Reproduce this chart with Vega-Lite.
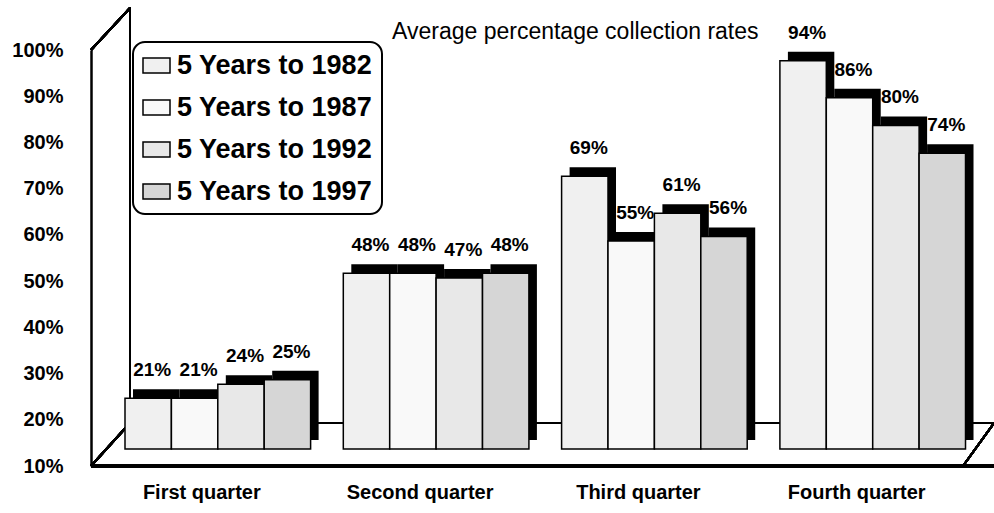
{
  "$schema": "https://vega.github.io/schema/vega-lite/v6.json",
  "width": 903,
  "height": 416,
  "autosize": {"type": "none"},
  "padding": {"left": 91, "top": 50, "right": 0, "bottom": 47},
  "background": "white",
  "title": {
    "text": "Average percentage collection rates",
    "anchor": "start",
    "frame": "group",
    "dx": 301,
    "dy": 69,
    "offset": 13,
    "baseline": "alphabetic",
    "font": "Liberation Sans",
    "fontSize": 23,
    "fontWeight": "normal",
    "color": "black"
  },
  "config": {"view": {"stroke": null}, "font": "Liberation Sans", "legend": {"strokeWidth": 2}},
  "resolve": {"scale": {"xOffset": "independent"}},
  "data": {
    "values": [
      {"quarter": "First quarter", "period": "5 Years to 1982", "value": 21},
      {"quarter": "First quarter", "period": "5 Years to 1987", "value": 21},
      {"quarter": "First quarter", "period": "5 Years to 1992", "value": 24},
      {"quarter": "First quarter", "period": "5 Years to 1997", "value": 25},
      {"quarter": "Second quarter", "period": "5 Years to 1982", "value": 48},
      {"quarter": "Second quarter", "period": "5 Years to 1987", "value": 48},
      {"quarter": "Second quarter", "period": "5 Years to 1992", "value": 47},
      {"quarter": "Second quarter", "period": "5 Years to 1997", "value": 48},
      {"quarter": "Third quarter", "period": "5 Years to 1982", "value": 69},
      {"quarter": "Third quarter", "period": "5 Years to 1987", "value": 55},
      {"quarter": "Third quarter", "period": "5 Years to 1992", "value": 61},
      {"quarter": "Third quarter", "period": "5 Years to 1997", "value": 56},
      {"quarter": "Fourth quarter", "period": "5 Years to 1982", "value": 94},
      {"quarter": "Fourth quarter", "period": "5 Years to 1987", "value": 86},
      {"quarter": "Fourth quarter", "period": "5 Years to 1992", "value": 80},
      {"quarter": "Fourth quarter", "period": "5 Years to 1997", "value": 74}
    ]
  },
  "layer": [
    {
      "mark": {"type": "rule", "color": "black", "strokeWidth": 2, "xOffset": 5, "x2Offset": 20.5, "yOffset": -43, "y2Offset": -43},
      "encoding": {
        "x": {"datum": "First quarter", "type": "nominal", "bandPosition": 0},
        "x2": {"datum": "Fourth quarter", "bandPosition": 1},
        "y": {"datum": 10, "type": "quantitative"},
        "y2": {"datum": 10}
      }
    },
    {
      "mark": {"type": "rule", "color": "black", "strokeWidth": 2.5, "x2Offset": -31},
      "encoding": {"y": {"datum": 10, "type": "quantitative"}}
    },
    {
      "mark": {"type": "rule", "color": "black", "strokeWidth": 2, "xOffset": 5, "yOffset": -43, "y2Offset": -43},
      "encoding": {
        "x": {"datum": "First quarter", "type": "nominal", "bandPosition": 0},
        "y": {"datum": 10, "type": "quantitative"},
        "y2": {"datum": 100}
      }
    },
    {
      "mark": {"type": "rule", "color": "black", "strokeWidth": 2, "xOffset": -34, "x2Offset": 5, "y2Offset": -42},
      "encoding": {
        "x": {"datum": "First quarter", "type": "nominal", "bandPosition": 0},
        "x2": {"datum": "First quarter", "bandPosition": 0},
        "y": {"datum": 100, "type": "quantitative"},
        "y2": {"datum": 100}
      }
    },
    {
      "mark": {"type": "rule", "color": "black", "strokeWidth": 2, "xOffset": -34, "x2Offset": 5, "y2Offset": -43},
      "encoding": {
        "x": {"datum": "First quarter", "type": "nominal", "bandPosition": 0},
        "x2": {"datum": "First quarter", "bandPosition": 0},
        "y": {"datum": 10, "type": "quantitative"},
        "y2": {"datum": 10}
      }
    },
    {
      "mark": {"type": "rule", "color": "black", "strokeWidth": 2, "xOffset": -10.5, "x2Offset": 20.5, "y2Offset": -43},
      "encoding": {
        "x": {"datum": "Fourth quarter", "type": "nominal", "bandPosition": 1},
        "x2": {"datum": "Fourth quarter", "bandPosition": 1},
        "y": {"datum": 10, "type": "quantitative"},
        "y2": {"datum": 10}
      }
    },
    {
      "mark": {"type": "bar", "color": "black", "yOffset": -26, "y2Offset": -26},
      "encoding": {
        "x": {"field": "quarter", "type": "nominal", "sort": ["First quarter", "Second quarter", "Third quarter", "Fourth quarter"]},
        "xOffset": {"field": "period", "type": "nominal", "scale": {"paddingInner": 0, "paddingOuter": 0.0862, "align": 1}},
        "y": {"field": "value", "type": "quantitative"},
        "y2": {"datum": 10}
      }
    },
    {
      "mark": {"type": "bar", "stroke": "black", "strokeWidth": 1.5, "yOffset": -17, "y2Offset": -17},
      "encoding": {
        "x": {
          "field": "quarter",
          "type": "nominal",
          "sort": ["First quarter", "Second quarter", "Third quarter", "Fourth quarter"],
          "scale": {"paddingInner": 0.1131, "paddingOuter": 0.1248, "align": 0.624},
          "title": null,
          "axis": {
            "labelAngle": 0,
            "labelAlign": "center",
            "labelFont": "Liberation Sans",
            "labelFontWeight": "bold",
            "labelFontSize": 20,
            "labelColor": "black",
            "labelPadding": 26,
            "labelOffset": -20,
            "tickSize": 0,
            "domain": false
          }
        },
        "xOffset": {"field": "period", "type": "nominal", "scale": {"paddingInner": 0, "paddingOuter": 0.0862, "align": 0}},
        "y": {
          "field": "value",
          "type": "quantitative",
          "scale": {"domain": [10, 100], "nice": false, "zero": false},
          "title": null,
          "axis": {
            "values": [10, 20, 30, 40, 50, 60, 70, 80, 90, 100],
            "labelExpr": "datum.value + '%'",
            "labelFont": "Liberation Sans",
            "labelFontWeight": "bold",
            "labelFontSize": 20,
            "labelColor": "black",
            "labelPadding": 28,
            "tickSize": 0,
            "grid": false,
            "domainColor": "black",
            "domainWidth": 2.5
          }
        },
        "y2": {"datum": 10},
        "fill": {
          "field": "period",
          "type": "nominal",
          "scale": {"range": ["#f0f0f0", "#f9f9f9", "#e8e8e8", "#d6d6d6"]},
          "legend": {
            "title": null,
            "orient": "none",
            "legendX": 42,
            "legendY": -8,
            "padding": 9,
            "strokeColor": "black",
            "cornerRadius": 12,
            "fillColor": "white",
            "symbolType": "M-1,-0.55H1V0.55H-1Z",
            "symbolSize": 729,
            "symbolStrokeColor": "black",
            "symbolStrokeWidth": 1.5,
            "labelFont": "Liberation Sans",
            "labelFontWeight": "bold",
            "labelFontSize": 27,
            "labelColor": "black",
            "labelOffset": 6,
            "labelLimit": 400,
            "rowPadding": 14
          }
        }
      }
    },
    {
      "transform": [{"calculate": "datum.value + '%'", "as": "label"}],
      "mark": {"type": "text", "font": "Liberation Sans", "fontWeight": "bold", "fontSize": 19, "color": "black", "dx": 4, "dy": -39, "baseline": "alphabetic"},
      "encoding": {
        "x": {"field": "quarter", "type": "nominal", "sort": ["First quarter", "Second quarter", "Third quarter", "Fourth quarter"]},
        "xOffset": {"field": "period", "type": "nominal", "scale": {"type": "band", "paddingInner": 0, "paddingOuter": 0.0862, "align": 0}},
        "y": {"field": "value", "type": "quantitative"},
        "text": {"field": "label"}
      }
    }
  ]
}
